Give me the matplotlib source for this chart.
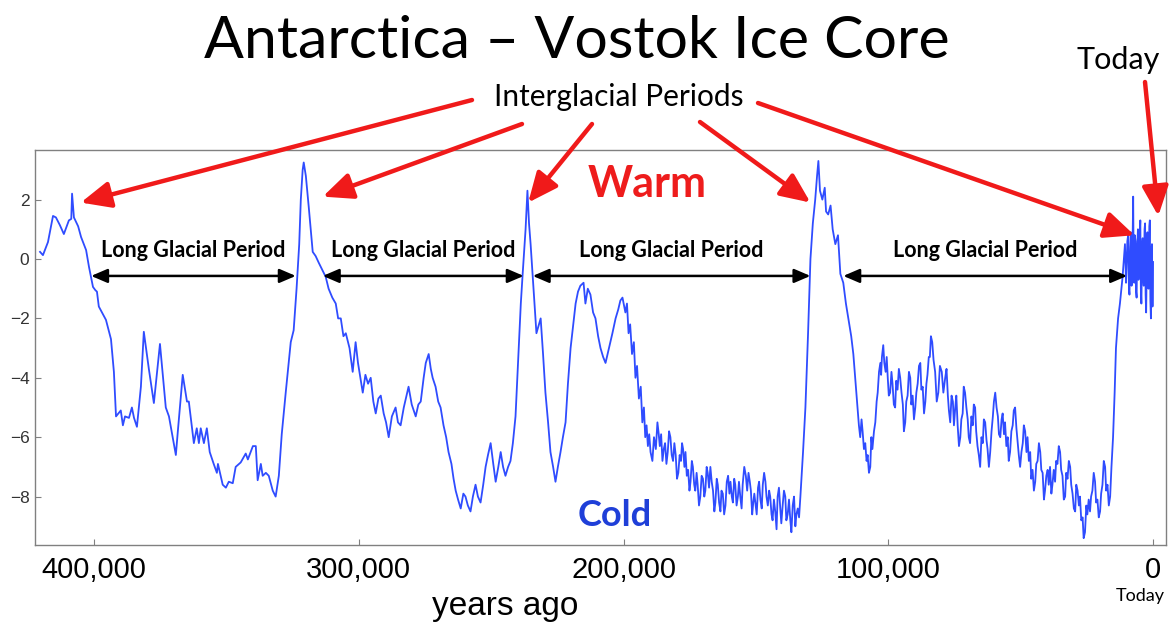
import matplotlib
matplotlib.use("Agg")
import matplotlib.pyplot as plt
import numpy as np

# ---------------- data (age in thousands of years ago, temperature anomaly) ----
cycle1_age = [420.4, 419.3, 417.4, 415.5, 414.4, 412.9, 411.4, 409.5, 408.6, 408.3, 407.6, 406.0,
              404.9, 403.0, 401.9, 400.4, 399.5, 398.9, 398.2, 397.0, 395.5, 393.6, 392.5, 391.7,
              389.9, 389.1, 388.3, 386.8, 385.7, 384.9, 383.8, 382.3, 381.2, 379.3, 377.4, 375.1,
              372.9, 371.7, 369.1, 368.3, 366.5, 364.9, 364.2, 362.3, 361.2, 360.4, 359.7, 358.5,
              357.4, 356.3, 354.8, 353.6, 353.2, 351.4, 350.2, 349.1, 347.6, 346.5, 344.6, 342.7,
              341.9, 340.0, 338.9, 338.2, 337.0, 336.3, 335.1, 334.0, 332.5, 331.4, 330.2, 329.1,
              327.6, 325.7, 324.6, 323.5, 322.5, 321.9, 321.2, 320.8, 320.0, 318.9, 317.4, 316.3,
              315.1]
cycle1_temp = [0.24, 0.13, 0.57, 1.45, 1.40, 1.14, 0.84, 1.30, 1.35, 2.20, 1.40, 1.10,
               0.74, 0.30, -0.27, -0.94, -1.05, -1.10, -1.60, -1.80, -2.05, -2.70, -3.8, -5.30,
               -5.10, -5.60, -5.30, -5.35, -5.00, -5.35, -5.65, -4.30, -2.45, -3.70, -4.85, -2.86,
               -5.00, -5.30, -6.60, -5.75, -3.90, -4.80, -4.80, -6.20, -5.70, -6.20, -5.70, -6.20,
               -5.70, -6.50, -6.90, -7.20, -6.90, -7.60, -7.70, -7.50, -7.55, -7.00, -6.85, -6.55,
               -6.75, -6.30, -6.30, -7.45, -6.90, -7.30, -7.20, -7.30, -7.80, -8.00, -7.30, -5.90,
               -4.50, -2.80, -2.40, -1.0, 0.5, 2.0, 3.0, 3.25, 2.8, 1.75, 0.24, 0.10,
               -0.13]

cycle2_age = [313.6, 312.5, 311.4, 310.0, 308.7, 307.8, 306.8, 305.8, 304.9, 303.5, 302.3, 301.2,
              300.3, 299.4, 298.5, 297.5, 296.5, 295.5, 294.5, 293.6, 292.6, 291.7, 290.6, 289.7,
              288.7, 287.5, 286.1, 285.2, 284.2, 283.0, 281.2, 280.0, 278.5, 277.5, 276.6, 275.5,
              274.7, 273.6, 272.8, 272.1, 271.0, 270.0, 269.1, 268.0, 267.0, 266.1, 265.0, 264.2,
              263.4, 262.5, 261.5, 260.5, 259.7, 258.8, 257.8, 256.9, 255.9, 255.0, 254.0, 253.0,
              252.1, 251.2, 250.2, 249.2, 248.3, 247.3, 246.4, 245.5, 244.6, 243.6, 242.7, 241.8,
              240.8, 239.6, 238.8, 238.1, 237.0, 236.3, 235.7, 235.1, 234.0]
cycle2_temp = [-0.40, -0.6, -1.0, -1.3, -1.5, -2.0, -2.0, -2.6, -2.5, -3.0, -3.8, -2.8,
               -3.5, -4.0, -4.5, -3.9, -4.2, -4.0, -4.8, -5.2, -4.7, -4.6, -5.2, -5.5,
               -6.0, -5.3, -5.0, -5.5, -5.6, -5.0, -4.3, -4.9, -5.3, -4.9, -4.8, -4.0,
               -3.5, -3.2, -3.7, -4.0, -4.3, -4.8, -5.0, -5.6, -6.0, -6.5, -6.9, -7.4,
               -7.8, -8.1, -8.4, -7.9, -8.0, -8.3, -8.5, -8.0, -7.6, -8.0, -8.2, -7.6,
               -7.0, -6.6, -6.2, -6.9, -7.5, -7.0, -6.5, -7.0, -7.3, -7.0, -6.8, -6.2,
               -5.3, -3.0, -1.5, -0.5, 1.0, 2.3, 1.2, 0.5, -1.0]

cycle3_age = [232.9, 231.3, 230.4, 229.5, 228.5, 227.6, 226.6, 225.7, 224.8, 223.8, 222.9, 221.9,
              221.0, 220.0, 219.0, 218.1, 217.2, 216.3, 215.1, 214.4, 213.5, 212.5, 211.5, 210.6,
              209.6, 208.7, 207.7, 206.8, 205.5, 204.2, 203.0, 202.0, 201.2, 200.4,
              199.3, 198.7, 198.1, 197.5, 196.8, 196.1, 195.5, 194.9, 194.2, 193.5, 192.9, 192.3,
              191.8, 191.3, 190.8, 190.3, 189.8, 189.1, 188.5, 187.8, 187.2, 186.7, 186.3, 185.8,
              185.3, 184.8, 184.3, 183.8, 183.3, 182.8, 182.3, 181.8, 181.3, 180.8, 180.3, 179.8,
              179.3, 178.8, 178.3, 177.9, 177.5, 177.0, 176.6, 176.1, 175.6, 175.1, 174.7, 174.2,
              173.8, 173.3, 172.9, 172.4, 172.0, 171.5, 171.0, 170.5, 170.0, 169.5, 169.1, 168.6,
              168.2, 167.7, 167.2, 166.7, 166.2, 165.7, 165.3, 164.8, 164.4, 163.9, 163.4, 163.0,
              162.5, 162.0, 161.5, 161.0, 160.5, 160.0, 159.6, 159.1, 158.7, 158.2, 157.8, 157.3,
              156.8, 156.4, 155.9, 155.4, 155.0, 154.4, 153.8, 153.3, 152.8, 152.3, 151.9, 151.4,
              151.0, 150.6, 150.2, 149.7, 149.2, 148.8, 148.3, 147.8, 147.4, 146.9, 146.4, 146.0,
              145.5, 145.0, 144.6, 144.1, 143.7, 143.2, 142.7, 142.2, 141.8, 141.3, 140.8, 140.4,
              139.9, 139.4, 138.9, 138.5, 138.0, 137.5, 137.0, 136.6, 136.1, 135.6, 135.1, 134.7,
              134.2, 133.7, 133.2,
              132.2, 131.3, 130.3, 129.4, 128.5, 127.6,
              126.9, 126.4, 125.8, 124.9, 124.0, 123.5, 122.7, 121.8, 121.0, 120.0, 119.0, 118.1,
              117.0, 116.0]
cycle3_temp = [-2.5, -2.0, -3.2, -4.5, -5.5, -6.5, -7.0, -7.5, -7.0, -6.5, -6.0, -5.5,
               -4.2, -3.0, -2.2, -1.5, -1.1, -0.9, -0.8, -1.5, -1.0, -1.2, -1.8, -2.0,
               -2.6, -3.0, -3.3, -3.5, -3.0, -2.5, -2.0, -1.7, -1.4, -1.3,
               -1.8, -1.5, -2.5, -2.2, -3.2, -2.8, -4.0, -3.6, -4.7, -4.3, -5.5, -5.0,
               -6.0, -5.6, -6.3, -5.9, -6.5, -6.8, -6.0, -6.4, -5.5, -5.9, -6.3, -5.9,
               -6.8, -6.4, -6.2, -6.9, -6.5, -5.8, -6.0, -6.6, -6.8, -6.2, -6.6, -7.4,
               -7.2, -6.6, -6.8, -6.2, -6.4, -7.0, -6.5, -7.3, -7.1, -7.8, -7.5, -6.8,
               -7.0, -7.6, -7.8, -7.2, -7.6, -8.3, -8.0, -7.3, -7.4, -8.0, -7.8, -7.0,
               -7.2, -7.7, -7.0, -7.5, -7.8, -8.5, -8.2, -7.4, -7.6, -8.2, -8.5, -7.8,
               -7.9, -8.6, -8.3, -7.5, -7.3, -7.9, -7.5, -8.0, -8.2, -7.4, -7.6, -8.3,
               -8.0, -7.5, -8.0, -8.4, -7.6, -7.0, -7.3, -7.8, -7.2, -7.5, -7.8, -8.6,
               -8.2, -7.9, -8.2, -8.6, -7.7, -7.5, -8.1, -8.4, -7.6, -7.2, -7.5, -8.0,
               -8.3, -7.8, -8.0, -8.6, -8.8, -8.1, -8.5, -9.1, -8.0, -7.7, -8.4, -8.9,
               -8.3, -7.8, -8.0, -8.8, -8.6, -8.1, -8.8, -9.2, -8.3, -8.0, -9.0, -8.6,
               -8.4, -8.7, -8.0,
               -6.5, -5.0, -2.5, 0.0, 1.2, 2.0,
               2.8, 3.3, 2.3, 2.0, 2.4, 1.6, 1.5, 1.8, 1.0, 0.5, 0.8, -0.5,
               -0.8, -1.5]

cycle4_age = [115.1, 114.0, 113.2, 112.5, 111.6, 111.1, 110.6, 110.1, 109.7, 109.2, 108.7, 108.2,
              107.8, 107.3, 106.8, 106.4, 106.0, 105.4, 104.9, 104.4, 104.0, 103.5, 103.0, 102.7,
              102.4, 101.9, 101.5, 101.0, 100.6, 100.2, 99.8, 99.3, 98.8, 98.4, 97.9, 97.4,
              97.0, 96.5, 96.0, 95.5, 95.0, 94.5, 94.1, 93.6, 93.2, 92.7, 92.2, 91.7,
              91.3, 90.8, 90.3, 89.8, 89.4, 88.9, 88.4, 87.9, 87.5, 87.0, 86.5, 86.0,
              85.6, 85.2, 84.7, 84.3, 83.9, 83.4, 82.9, 82.3, 81.7, 81.1, 80.5, 79.8,
              79.2, 78.5, 78.0, 77.5, 77.1, 76.6, 76.1, 75.6, 75.2, 74.7, 74.3, 73.8,
              73.3, 72.8, 72.4, 71.9, 71.5, 71.0, 70.5, 70.0, 69.6, 69.1, 68.6, 68.1,
              67.7, 67.2, 66.8, 66.3, 65.8, 65.3, 64.8, 64.3, 63.9, 63.4, 62.9, 62.5,
              62.0, 61.5, 61.0, 60.5, 60.1, 59.6, 59.1, 58.6, 58.2, 57.7, 57.2, 56.8,
              56.3, 55.9, 55.4, 54.9, 54.5, 54.0, 53.5, 53.0, 52.6, 52.1, 51.6, 51.2,
              50.7, 50.2, 49.7, 49.2, 48.8, 48.3, 47.8, 47.4, 46.9, 46.4, 46.0, 45.5,
              45.0, 44.5, 44.1, 43.6, 43.1, 42.6, 42.2, 41.7, 41.2, 40.8, 40.3, 39.8,
              39.4, 38.9, 38.4, 38.0, 37.5, 37.0, 36.6, 36.1, 35.6, 35.1, 34.7, 34.2,
              33.7, 33.2, 32.8, 32.3, 31.8, 31.3, 30.9, 30.4, 29.9, 29.4, 29.0, 28.5,
              28.0, 27.6, 27.1, 26.6, 26.2, 25.7, 25.2, 24.8, 24.3, 23.8, 23.4, 22.9,
              22.4, 21.9, 21.5, 21.0, 20.5, 20.0, 19.6, 19.1, 18.6, 18.1, 17.7, 17.2,
              16.7, 16.2, 15.7, 15.1, 14.5, 14.0, 13.2, 12.5, 11.5]
cycle4_temp = [-2.0, -2.6, -3.2, -4.0, -5.0, -5.6, -6.0, -5.4, -5.8, -6.4, -6.2, -6.8,
               -6.6, -7.2, -7.0, -6.0, -6.4, -5.8, -5.5, -4.8, -4.5, -3.8, -3.5, -3.9,
               -3.3, -2.9, -3.5, -3.8, -3.3, -4.0, -4.6, -4.5, -3.8, -4.2, -4.9, -5.0,
               -4.1, -4.4, -3.7, -4.0, -4.5, -4.9, -5.8, -5.5, -4.8, -4.6, -3.8, -4.0,
               -4.9, -4.6, -5.4, -5.0, -4.5, -4.2, -3.6, -3.5, -4.4, -4.3, -5.2, -4.8,
               -4.2, -3.9, -3.3, -3.3, -2.6, -2.8, -3.4, -3.8, -4.8, -4.5, -3.6, -3.8,
               -4.5, -4.0, -3.7, -4.6, -5.1, -5.5, -4.6, -4.8, -5.6, -5.0, -4.6, -5.6,
               -6.3, -6.0, -5.4, -5.2, -4.3, -4.5, -5.0, -5.4, -6.0, -6.2, -5.3, -5.6,
               -4.9, -5.0, -5.8, -6.3, -6.6, -7.0, -6.0, -6.2, -5.4, -5.5, -6.1, -6.4,
               -7.0, -6.5, -5.8, -5.3, -4.8, -4.5, -5.0, -5.3, -5.9, -6.0, -5.4, -5.2,
               -5.9, -5.5, -6.3, -6.0, -6.8, -6.5, -5.8, -5.6, -5.1, -5.0, -5.7, -6.1,
               -6.6, -7.0, -6.5, -6.2, -5.6, -5.8, -6.5, -6.0, -6.8, -6.5, -7.4, -7.1,
               -7.8, -7.5, -6.9, -6.8, -6.2, -6.5, -7.1, -7.2, -8.1, -7.8, -7.3, -7.1,
               -7.6, -7.0, -7.9, -7.6, -7.1, -7.5, -6.8, -6.9, -6.3, -6.5, -7.1, -7.3,
               -8.1, -8.0, -7.2, -7.4, -6.8, -7.0, -7.6, -7.9, -8.4, -8.5, -7.6, -7.8,
               -8.3, -8.0, -8.8, -8.7, -9.4, -9.2, -8.3, -8.6, -8.1, -8.5, -8.0, -7.8,
               -7.2, -7.5, -8.2, -8.1, -8.7, -8.5, -7.9, -7.6, -6.8, -7.0, -7.8, -7.6,
               -8.3, -8.0, -7.0, -6.0, -4.5, -3.0, -2.0, -1.5, -0.6]

holocene_age = [10.6, 10.2, 10.0, 9.7, 9.4, 9.1, 8.9, 8.6, 8.4, 8.1, 7.9, 7.7, 7.5, 7.3, 7.1,
                6.9, 6.6, 6.4, 6.2, 6.0, 5.7, 5.5, 5.3, 5.0, 4.8, 4.6, 4.4, 4.1, 3.9, 3.7,
                3.5, 3.2, 3.0, 2.8, 2.6, 2.3, 2.1, 1.9, 1.7, 1.4, 1.2, 1.0, 0.8, 0.6, 0.4,
                0.2, 0.0]
holocene_temp = [0.5, -0.8, -0.3, 0.6, 0.8, -1.0, -1.2, 0.4, 0.9, -0.9, -0.4, 0.7, 2.1, -0.5, -0.8,
                 0.8, 0.6, -1.1, -1.3, 0.3, 1.0, -0.7, -0.5, 0.9, 1.3, -1.0, -1.5, 0.5, 0.7, -0.6,
                 -0.9, 1.0, 1.2, -1.2, -1.8, 0.4, 0.9, -0.8, -1.0, 1.1, 1.3, -1.4, -2.0, 0.2, 0.5,
                 -1.6, -0.1]

x_ticks = [400000, 300000, 200000, 100000, 0]
x_ticklabels = ["400,000", "300,000", "200,000", "100,000", "0"]
y_ticks = [2, 0, -2, -4, -6, -8]

# glacial period spans (years ago) and interglacial peaks
glacial_spans = [(401100, 323800), (313600, 237700), (234300, 129400), (117000, 9800)]
interglacial_peaks = [(405000, 1.9), (313600, 2.1), (236000, 1.9), (129400, 1.9), (7000, 0.8)]

age_kyr = np.array(cycle1_age + cycle2_age + cycle3_age + cycle4_age + holocene_age)
temp = np.array(cycle1_temp + cycle2_temp + cycle3_temp + cycle4_temp + holocene_temp)
years = age_kyr * 1000

# ---------------- figure ----------------
W, H = 1173, 628
fig = plt.figure(figsize=(W / 100, H / 100), dpi=100)
ax = fig.add_axes([35 / W, 1 - 545 / H, (1166 - 35) / W, (545 - 150) / H])

ax.plot(years, temp, color="#2f4cff", lw=1.3, solid_joinstyle="round")
ax.set_xlim(422300, -4900)
ax.set_ylim(-9.63, 3.67)

for s in ax.spines.values():
    s.set_color("#808080")
    s.set_linewidth(1.0)

ax.set_xticks(x_ticks)
ax.set_xticklabels(x_ticklabels, fontsize=21, family="Liberation Sans", color="black")
ax.set_yticks(y_ticks)
ax.set_yticklabels([("\u2212%d" % abs(v)) if v < 0 else str(v) for v in y_ticks],
                   fontsize=12.5, family="Liberation Sans", color="#333333")
ax.tick_params(axis="x", direction="in", length=4, color="#808080", pad=8)
ax.tick_params(axis="y", direction="in", length=4, color="#808080", pad=4)

def fx(px):
    return px / W

def fy(py):
    return 1 - py / H

fig.text(fx(577), fy(42), "Antarctica \u2013 Vostok Ice Core", family="Lato",
         fontsize=42.5, ha="center", va="center", color="black")
fig.text(fx(619), fy(97), "Interglacial Periods", family="Lato",
         fontsize=21.5, ha="center", va="center", color="black")
fig.text(fx(1118), fy(60), "Today", family="Lato",
         fontsize=22, ha="center", va="center", color="black")
fig.text(fx(505), fy(606), "years ago", family="Liberation Sans",
         fontsize=24, ha="center", va="center", color="black")
fig.text(fx(1140), fy(596), "Today", family="Lato",
         fontsize=13, ha="center", va="center", color="black")

fig.text(fx(647), fy(184), "Warm", family="Lato", fontweight="bold",
         fontsize=31, color="#ee1c1c", ha="center", va="center")
fig.text(fx(615), fy(516), "Cold", family="Lato", fontweight="bold",
         fontsize=26, color="#1f3fd8", ha="center", va="center")

# interglacial red arrows
starts = [(472, 100), (522, 124), (592, 124), (700, 122), (758, 103)]
for (sx, sy), peak in zip(starts, interglacial_peaks):
    ax.annotate("", xy=peak, xycoords="data",
                xytext=(fx(sx), fy(sy)), textcoords="figure fraction",
                arrowprops=dict(arrowstyle="-|>,head_length=0.9,head_width=0.4",
                                color="#f01a1a", lw=3.2, shrinkA=0, shrinkB=0,
                                mutation_scale=20),
                annotation_clip=False)
ax.annotate("", xy=(-2000, 1.45), xycoords="data",
            xytext=(fx(1145), fy(82)), textcoords="figure fraction",
            arrowprops=dict(arrowstyle="-|>,head_length=0.9,head_width=0.4",
                            color="#f01a1a", lw=3.2, shrinkA=0, shrinkB=0,
                            mutation_scale=20),
            annotation_clip=False)

# glacial period double arrows
for a, b in glacial_spans:
    ax.annotate("", xy=(b, -0.57), xytext=(a, -0.57), xycoords="data",
                arrowprops=dict(arrowstyle="<|-|>,head_length=0.7,head_width=0.3",
                                color="black", lw=1.8, shrinkA=0, shrinkB=0,
                                mutation_scale=14))
    ax.text((a + b) / 2, 0.27, "Long Glacial Period", family="Lato", fontweight="bold",
            fontsize=15.5, ha="center", va="center", color="black")

fig.savefig("out.png", dpi=100)
